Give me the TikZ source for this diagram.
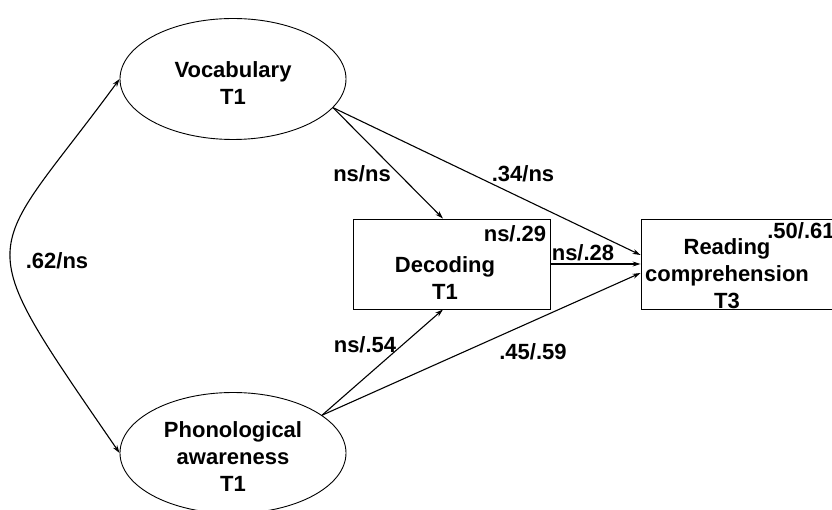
\documentclass[tikz,border=0pt]{standalone}
\usepackage{fontspec}
\setmainfont{Liberation Sans}
\usetikzlibrary{arrows.meta,shapes.geometric}
\begin{document}
\begin{tikzpicture}[x=1pt,y=1pt,
  every node/.style={font=\fontsize{22}{27}\selectfont\bfseries},
  lat/.style={ellipse,draw,line width=0.9pt,minimum width=226pt,minimum height=121pt,inner sep=0pt},
  obs/.style={rectangle,draw,line width=0.9pt,minimum height=90pt,inner sep=0pt},
  txt/.style={inner sep=0pt,align=center},
  path/.style={line width=1.1pt,-{Stealth[length=8pt,width=5pt]}},
  dbl/.style={line width=1.1pt,{Stealth[length=8pt,width=5pt]}-{Stealth[length=8pt,width=5pt]}}]
\path[use as bounding box,clip] (0,0) rectangle (832,509);
\node[lat] (voc) at (233,430) {};
\node[lat] (pho) at (233,56) {};
\node[obs,minimum width=197pt] (dec) at (451.5,245) {};
\node[obs,minimum width=209pt] (rd) at (745.5,245) {};
\node[txt] (voctext) at (233,426) {Vocabulary\\T1};
\node[txt] (photext) at (233,52) {Phonological\\awareness\\T1};
\node[txt] (dectext) at (445,231) {Decoding\\T1};
\node[txt] (rdtext) at (727,235) {Reading\\comprehension\\T3};
\node[txt] (r29) at (515,275) {ns/.29};
\node[txt] (r61) at (801,278) {.50/.61};
\draw[dbl] (voc.west) .. controls (-16,245) and (-35,281) .. (pho.west);
\draw[path] (voc.-16) -- ([xshift=-8.5pt]dec.north);
\draw[path] (voc.-16) -- ([yshift=9pt]rd.west);
\draw[path] (dec.east) -- (rd.west);
\draw[path] (pho.23) -- ([xshift=-8.5pt]dec.south);
\draw[path] (pho.23) -- ([yshift=-9pt]rd.west);
\node[txt] (l62) at (57,248) {.62/ns};
\node[txt] (lnsns) at (362,335) {ns/ns};
\node[txt] (l34) at (523,335) {.34/ns};
\node[txt] (l28) at (583,256) {ns/.28};
\node[txt] (l54) at (365,164) {ns/.54};
\node[txt] (l45) at (533,157) {.45/.59};
\end{tikzpicture}
\end{document}
